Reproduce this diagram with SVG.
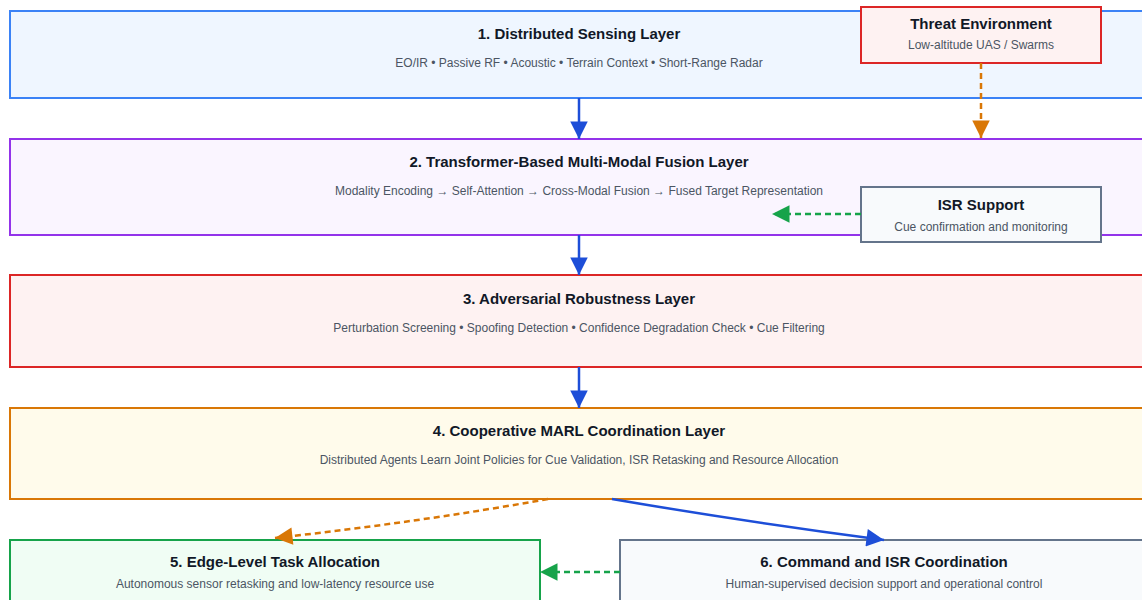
<svg xmlns="http://www.w3.org/2000/svg" width="1142" height="600" viewBox="0 0 1142 600">
<style>
.t{font-family:"Liberation Sans",Arial,sans-serif;font-size:15px;font-weight:bold;fill:#111827;text-anchor:middle}
.s{font-family:"Liberation Sans",Arial,sans-serif;font-size:12px;fill:#4b5563;text-anchor:middle}
.box{stroke-width:2}
</style>
<defs>
<marker id="mb" viewBox="0 0 10 10" refX="10" refY="5" markerWidth="7.5" markerHeight="7" orient="auto" markerUnits="strokeWidth"><path d="M0,0L10,5L0,10z" fill="#1d4ed8"/></marker>
<marker id="mo" viewBox="0 0 10 10" refX="10" refY="5" markerWidth="7.5" markerHeight="7" orient="auto" markerUnits="strokeWidth"><path d="M0,0L10,5L0,10z" fill="#d97706"/></marker>
<marker id="mg" viewBox="0 0 10 10" refX="10" refY="5" markerWidth="7.5" markerHeight="7" orient="auto" markerUnits="strokeWidth"><path d="M0,0L10,5L0,10z" fill="#16a34a"/></marker>
</defs>
<rect width="1142" height="600" fill="#ffffff"/>
<g id="n1"><rect class="box" x="10" y="11" width="1138" height="87" fill="#eff6ff" stroke="#3b82f6"/>
<text class="t" x="579" y="39">1. Distributed Sensing Layer</text>
<text class="s" x="579" y="67">EO/IR • Passive RF • Acoustic • Terrain Context • Short-Range Radar</text></g>
<g id="n2"><rect class="box" x="10" y="139" width="1138" height="96" fill="#faf5ff" stroke="#9333ea"/>
<text class="t" x="579" y="167">2. Transformer-Based Multi-Modal Fusion Layer</text>
<text class="s" x="579" y="195">Modality Encoding → Self-Attention → Cross-Modal Fusion → Fused Target Representation</text></g>
<g id="n3"><rect class="box" x="10" y="275" width="1138" height="92" fill="#fef2f2" stroke="#dc2626"/>
<text class="t" x="579" y="304">3. Adversarial Robustness Layer</text>
<text class="s" x="579" y="332">Perturbation Screening • Spoofing Detection • Confidence Degradation Check • Cue Filtering</text></g>
<g id="n4"><rect class="box" x="10" y="408" width="1138" height="91" fill="#fffbeb" stroke="#d97706"/>
<text class="t" x="579" y="436">4. Cooperative MARL Coordination Layer</text>
<text class="s" x="579" y="464">Distributed Agents Learn Joint Policies for Cue Validation, ISR Retasking and Resource Allocation</text></g>
<g id="n5"><rect class="box" x="10" y="540" width="530" height="70" fill="#f0fdf4" stroke="#16a34a"/>
<text class="t" x="275" y="567">5. Edge-Level Task Allocation</text>
<text class="s" x="275" y="588">Autonomous sensor retasking and low-latency resource use</text></g>
<g id="n6"><rect class="box" x="620" y="540" width="528" height="70" fill="#f8fafc" stroke="#64748b"/>
<text class="t" x="884" y="567">6. Command and ISR Coordination</text>
<text class="s" x="884" y="588">Human-supervised decision support and operational control</text></g>
<g id="threat"><rect class="box" x="861" y="7" width="240" height="56" fill="#fef2f2" stroke="#dc2626"/>
<text class="t" x="981" y="29">Threat Environment</text>
<text class="s" x="981" y="49">Low-altitude UAS / Swarms</text></g>
<g id="isr"><rect class="box" x="861" y="187" width="240" height="55" fill="#f8fafc" stroke="#64748b"/>
<text class="t" x="981" y="210">ISR Support</text>
<text class="s" x="981" y="231">Cue confirmation and monitoring</text></g>
<g id="connectors" fill="none">
<line x1="579" y1="98" x2="579" y2="139" stroke="#1d4ed8" stroke-width="2.5" marker-end="url(#mb)"/>
<line x1="579" y1="235" x2="579" y2="275" stroke="#1d4ed8" stroke-width="2.5" marker-end="url(#mb)"/>
<line x1="579" y1="367" x2="579" y2="408" stroke="#1d4ed8" stroke-width="2.5" marker-end="url(#mb)"/>
<line x1="981" y1="63" x2="981" y2="138" stroke="#d97706" stroke-width="2.5" stroke-dasharray="6,4" marker-end="url(#mo)"/>
<line x1="861" y1="214" x2="772" y2="214" stroke="#16a34a" stroke-width="2.5" stroke-dasharray="6,4" marker-end="url(#mg)"/>
<path d="M548,499 Q420,522 275,538" stroke="#d97706" stroke-width="2.5" stroke-dasharray="6,4" marker-end="url(#mo)"/>
<path d="M612,499 Q740,521 884,540" stroke="#1d4ed8" stroke-width="2.5" marker-end="url(#mb)"/>
<line x1="620" y1="572" x2="540" y2="572" stroke="#16a34a" stroke-width="2.5" stroke-dasharray="6,4" marker-end="url(#mg)"/>
</g>
</svg>
